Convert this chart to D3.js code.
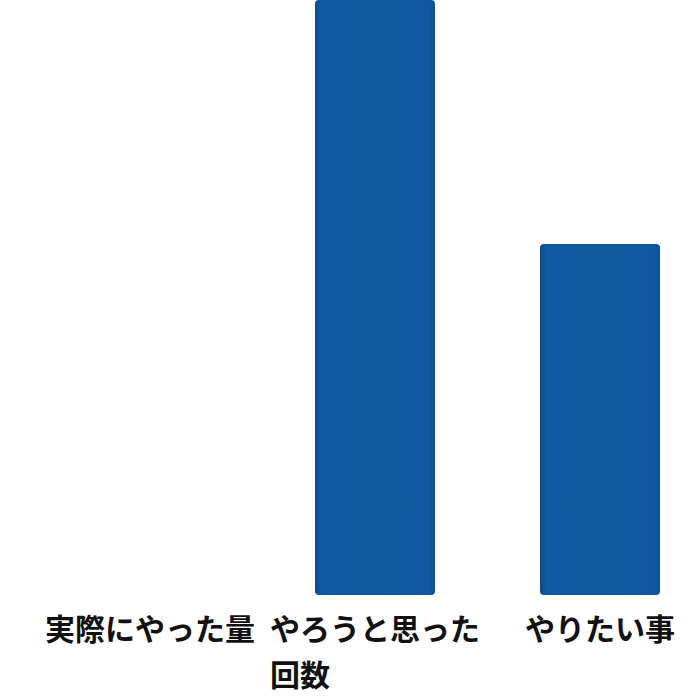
<!DOCTYPE html>
<html>
<head>
<meta charset="utf-8">
<script src="https://cdn.jsdelivr.net/npm/d3@7"></script>
<style>
  html, body { margin: 0; padding: 0; background: #fff; }
</style>
</head>
<body>
<div id="chart-container"></div>
<script>
// chart data
const categories = ['実際にやった量', 'やろうと思った回数', 'やりたい事'];
const labelLines = [['実際にやった量'], ['やろうと思った', '回数'], ['やりたい事']];
const values = [0, 100, 59];

// chart dimensions
const svgWidth = 700;
const svgHeight = 700;
const baseline = 595;
const barTop = 0;

// step 225, bar width 120 -> centres at 150, 375, 600
const xScale = d3
  .scaleBand()
  .domain(categories)
  .range([90, 660])
  .paddingInner(1 - 120 / 225)
  .paddingOuter(0);

const yScale = d3.scaleLinear().domain([0, 100]).range([baseline, barTop]);

const svg = d3
  .create('svg')
  .attr('width', svgWidth)
  .attr('height', svgHeight)
  .attr('viewBox', [0, 0, svgWidth, svgHeight]);

const defs = svg.append('defs');
const grad = defs
  .append('linearGradient')
  .attr('id', 'barGrad')
  .attr('x1', '0%')
  .attr('x2', '100%');
grad.append('stop').attr('offset', '0%').attr('stop-color', '#0a4a8c');
grad.append('stop').attr('offset', '5%').attr('stop-color', '#0f5aa0');
grad.append('stop').attr('offset', '95%').attr('stop-color', '#1059a0');
grad.append('stop').attr('offset', '100%').attr('stop-color', '#0c4f92');

const data = categories.map((c, i) => ({ name: c, value: values[i], lines: labelLines[i] }));

// bars
svg
  .append('g')
  .selectAll('rect')
  .data(data.filter((d) => d.value > 0))
  .join('rect')
  .attr('x', (d) => xScale(d.name))
  .attr('width', xScale.bandwidth())
  .attr('y', (d) => yScale(d.value))
  .attr('height', (d) => yScale(0) - yScale(d.value))
  .attr('rx', 4)
  .attr('fill', 'url(#barGrad)');

document.querySelector('#chart-container').append(svg.node());

// category labels, block centred under the band, lines left aligned
const labels = svg
  .append('g')
  .attr('font-family', '"Noto Sans CJK JP", sans-serif')
  .attr('font-weight', 'bold')
  .attr('font-size', 30)
  .attr('fill', '#111')
  .selectAll('text')
  .data(data)
  .join('text')
  .attr('text-anchor', 'start')
  .attr('y', 640);

labels
  .selectAll('tspan')
  .data((d) => d.lines)
  .join('tspan')
  .attr('dy', (d, i) => (i === 0 ? 0 : 46))
  .text((d) => d);

labels.each(function (d) {
  const text = d3.select(this);
  const widest = d3.max(text.selectAll('tspan').nodes(), (n) => n.getComputedTextLength());
  const left = Math.max(4, Math.min(svgWidth - 4 - widest, xScale(d.name) + xScale.bandwidth() / 2 - widest / 2));
  text.attr('x', left).selectAll('tspan').attr('x', left);
});
</script>
</body>
</html>
